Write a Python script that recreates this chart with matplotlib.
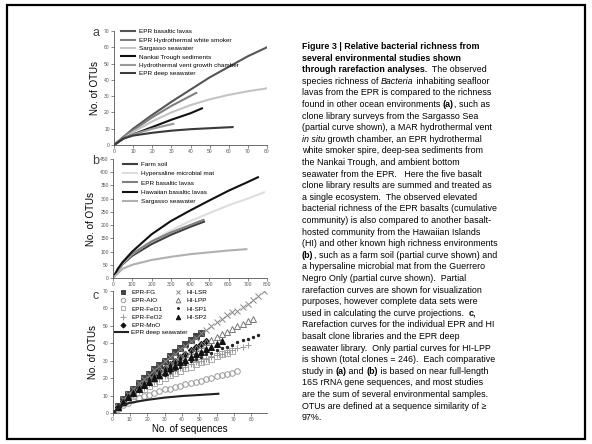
import numpy as np
import matplotlib.pyplot as plt

plt.rcParams['font.family'] = ['Liberation Sans', 'DejaVu Sans']

# ---- panel a: rarefaction, ocean environments
a_names = ["EPR basaltic lavas", "EPR Hydrothermal white smoker", "Sargasso seawater",
           "Nankai Trough sediments", "Hydrothermal vent growth chamber", "EPR deep seawater"]
a_x = [[0, 10, 20, 30, 40, 50, 60, 70, 80],
       [0, 5, 10, 20, 30, 43],
       [0, 10, 20, 30, 40, 50, 60, 70, 80],
       [0, 5, 10, 20, 30, 40, 46],
       [0, 5, 10, 20, 31],
       [0, 5, 10, 20, 30, 40, 50, 62]]
a_y = [[0, 10, 18.5, 26.5, 34, 41.5, 48, 54.5, 60],
       [0, 5, 9, 17, 24, 32],
       [0, 8, 14.5, 20, 24.5, 28, 30.8, 33, 34.8],
       [0, 4, 6.5, 11, 15.5, 19.5, 22.5],
       [0, 4, 6.5, 10, 13],
       [0, 4, 5.8, 7.5, 8.8, 9.7, 10.3, 11]]
a_col = ['#555555', '#808080', '#c4c4c4', '#111111', '#999999', '#3a3a3a']

# ---- panel b: high richness environments
b_names = ["Farm soil", "Hypersaline microbial mat", "EPR basaltic lavas",
           "Hawaiian basaltic lavas", "Sargasso seawater"]
b_x = [[0, 50, 100, 200, 300, 400, 473],
       [0, 50, 100, 200, 300, 400, 500, 600, 700, 784],
       [0, 50, 100, 200, 300, 400, 470],
       [0, 25, 50, 100, 200, 300, 400, 500, 600, 700, 753],
       [0, 50, 100, 200, 300, 400, 500, 600, 693]]
b_y = [[0, 52, 84, 128, 163, 193, 213],
       [0, 55, 90, 140, 180, 215, 245, 275, 300, 324],
       [0, 58, 92, 138, 172, 200, 220],
       [0, 35, 60, 100, 165, 215, 255, 293, 330, 363, 381],
       [0, 35, 50, 68, 80, 90, 97, 104, 109]]
b_col = ['#404040', '#dedede', '#808080', '#111111', '#b0b0b0']

# ---- panel c: individual clone libraries
c_names = ["EPR-FG", "EPR-AIO", "EPR-FeO1", "EPR-FeO2", "EPR-MnO",
           "HI-LSR", "HI-LPP", "HI-SP1", "HI-SP2"]
c_y = [[0, 4, 8, 11, 14, 17, 20, 22.5, 25, 27.5, 30, 32.5, 35, 37, 39.5, 41.5, 44, 46],
       [0, 2.5, 4.5, 6, 7.5, 8.5, 9.5, 10.5, 11.5, 12.5, 13.5, 14, 15, 15.5, 16.5, 17, 18,
        18.5, 19.5, 20, 21, 21.5, 22.5, 23, 24],
       [0, 3, 5.5, 8, 10, 12, 14, 15.5, 17, 18.5, 20, 21.5, 23, 24, 25.5, 26.5, 28, 29,
        30, 31, 32.5, 33.5, 34.5, 35.5],
       [0, 3, 6, 8.5, 10.5, 12.5, 14.5, 16.5, 18, 19.5, 21, 22.5, 24, 25.5, 26.5, 28, 29,
        30, 31, 32, 33, 34, 35, 36, 37, 38, 39],
       [0, 3.5, 7, 10, 12.5, 15, 17.5, 20, 22, 24, 26, 28, 30, 32, 34, 36, 37.5, 39.5, 41],
       [0, 4, 8, 11, 14, 17, 19.5, 22, 24.5, 27, 29.5, 32, 34, 36.5, 38.5, 41, 43, 45.5,
        47.5, 50, 52, 54, 56, 58, 58.5, 60.5, 62.5, 64.5, 67, 69.5],
       [0, 3.5, 7, 10, 12.5, 15, 17.5, 20, 22, 24, 26, 28, 30, 32, 33.5, 35.5, 37, 39,
        40.5, 42, 43.5, 45, 46.5, 48, 49.5, 51, 52.5, 54],
       [0, 3, 6, 8.5, 11, 13, 15, 17, 19, 20.5, 22, 23.5, 25, 26.5, 28, 29.5, 31, 32,
        33.5, 34.5, 36, 37, 38, 39, 40.5, 41.5, 42.5, 43.5, 44.5],
       [0, 3.5, 6.5, 9, 11.5, 14, 16, 18, 20, 22, 23.5, 25.5, 27, 29, 30.5, 32, 33.5, 35,
        36.5, 38, 39.5, 41]]
c_step = 3
c_mark = ['s', 'o', 's', '+', 'D', 'x', '^', '.', '^']
c_face = ['#444444', 'none', 'none', '#999999', '#111111', '#888888', 'none', '#222222', '#111111']
c_edge = ['#444444', '#999999', '#aaaaaa', '#999999', '#111111', '#888888', '#777777', '#222222', '#111111']
c_ms = [3.8, 4.0, 4.0, 4.6, 3.2, 4.2, 4.2, 3.4, 4.0]
deep_x = [0, 5, 10, 20, 30, 40, 50, 61]
deep_y = [0, 4, 5.8, 7.5, 8.8, 9.7, 10.3, 11]

W, H = 592, 444
fig = plt.figure(figsize=(W / 100, H / 100), dpi=100)


def axes_px(l, t, r, b):
    return fig.add_axes([l / W, 1 - b / H, (r - l) / W, (b - t) / H])


def style(ax):
    for s in ['top', 'right']:
        ax.spines[s].set_visible(False)
    for s in ['left', 'bottom']:
        ax.spines[s].set_linewidth(0.6)
        ax.spines[s].set_color('#555555')
    ax.tick_params(labelsize=3.6, length=2, width=0.5, pad=1, colors='#555555')
    ax.set_ylabel("No. of OTUs", fontsize=7, labelpad=3)


# frame
fig.patches.append(plt.Rectangle((7 / W, 1 - 439 / H), 578 / W, 434 / H, transform=fig.transFigure,
                                 fill=False, lw=1.6, ec='black'))

ax = axes_px(114, 31, 267, 145)
for x, y, c, n in zip(a_x, a_y, a_col, a_names):
    ax.plot(x, y, color=c, lw=1.5, label=n)
ax.set_xlim(0, 80)
ax.set_ylim(0, 70)
ax.set_xticks(range(0, 81, 10))
ax.set_yticks(range(0, 71, 10))
style(ax)
ax.legend(loc='upper left', bbox_to_anchor=(0.03, 1.04), frameon=False, fontsize=4.6,
          handlelength=2.2, handletextpad=0.6, labelspacing=0.45, borderaxespad=0)

ax = axes_px(113, 159, 267, 278)
for x, y, c, n in zip(b_x, b_y, b_col, b_names):
    ax.plot(x, y, color=c, lw=1.5, label=n)
ax.set_xlim(0, 800)
ax.set_ylim(0, 450)
ax.set_xticks(range(0, 801, 100))
ax.set_yticks(range(0, 451, 50))
style(ax)
ax.legend(loc='upper left', bbox_to_anchor=(0.05, 1.0), frameon=False, fontsize=4.6,
          handlelength=2.2, handletextpad=0.6, labelspacing=0.6, borderaxespad=0)

ax = axes_px(112.5, 290.5, 267, 413)
hs = []
for y, m, fc, ec, ms, n in zip(c_y, c_mark, c_face, c_edge, c_ms, c_names):
    x = [i * c_step for i in range(len(y))]
    h, = ax.plot(x, y, ls='none', marker=m, mfc=fc, mec=ec, ms=ms, mew=0.7, label=n)
    hs.append(h)
dl, = ax.plot(deep_x, deep_y, color='#222222', lw=1.5, label="EPR deep seawater")
ax.set_xlim(0, 89)
ax.set_ylim(0, 70)
ax.set_xticks(range(0, 81, 10))
ax.set_yticks(range(0, 71, 10))
style(ax)
ax.set_xlabel("No. of sequences", fontsize=7, labelpad=1)
leg = ax.legend(handles=hs, ncol=2, loc='upper left', bbox_to_anchor=(0.03, 1.03), frameon=False,
                fontsize=4.6, handlelength=1.0, handletextpad=0.8, labelspacing=0.45,
                columnspacing=2.0, borderaxespad=0, markerscale=0.8)
ax.add_artist(leg)
ax.legend(handles=[dl], loc='upper left', bbox_to_anchor=(0.0, 0.7), frameon=False,
          fontsize=4.6, handlelength=2.0, handletextpad=0.5, borderaxespad=0)

for lab, yy in [("a", 33), ("b", 161), ("c", 296)]:
    fig.text(96 / W, 1 - yy / H, lab, fontsize=9, color='#444444', ha='center', va='center')

# ---- caption
B, I, N = 'bold', 'italic', 'normal'
caption = [
    [("Figure 3 | Relative bacterial richness from", B)],
    [("several environmental studies shown", B)],
    [("through rarefaction analyses.", B), ("  The observed", N)],
    [("species richness of ", N), ("Bacteria", I), (" inhabiting seafloor", N)],
    [("lavas from the EPR is compared to the richness", N)],
    [("found in other ocean environments ", N), ("(a)", B), (", such as", N)],
    [("clone library surveys from the Sargasso Sea", N)],
    [("(partial curve shown), a MAR hydrothermal vent", N)],
    [("in situ", I), (" growth chamber, an EPR hydrothermal", N)],
    [("white smoker spire, deep-sea sediments from", N)],
    [("the Nankai Trough, and ambient bottom", N)],
    [("seawater from the EPR.   Here the five basalt", N)],
    [("clone library results are summed and treated as", N)],
    [("a single ecosystem.  The observed elevated", N)],
    [("bacterial richness of the EPR basalts (cumulative", N)],
    [("community) is also compared to another basalt-", N)],
    [("hosted community from the Hawaiian Islands", N)],
    [("(HI) and other known high richness environments", N)],
    [("(b)", B), (", such as a farm soil (partial curve shown) and", N)],
    [("a hypersaline microbial mat from the Guerrero", N)],
    [("Negro Only (partial curve shown).  Partial", N)],
    [("rarefaction curves are shown for visualization", N)],
    [("purposes, however complete data sets were", N)],
    [("used in calculating the curve projections.  ", N), ("c,", B)],
    [("Rarefaction curves for the individual EPR and HI", N)],
    [("basalt clone libraries and the EPR deep", N)],
    [("seawater library.  Only partial curves for HI-LPP", N)],
    [("is shown (total clones = 246).  Each comparative", N)],
    [("study in ", N), ("(a)", B), (" and ", N), ("(b)", B), (" is based on near full-length", N)],
    [("16S rRNA gene sequences, and most studies", N)],
    [("are the sum of several environmental samples.", N)],
    [("OTUs are defined at a sequence similarity of \u2265", N)],
    [("97%.", N)],
]

fig.canvas.draw()
rend = fig.canvas.get_renderer()
fs = 6.4


def seg_width(s, st):
    kw = dict(fontsize=fs, weight='bold' if st == B else 'normal',
              style='italic' if st == I else 'normal')
    t1 = fig.text(0, 0, "|" + s + "|", **kw)
    t2 = fig.text(0, 0, "||", **kw)
    w = t1.get_window_extent(rend).width - t2.get_window_extent(rend).width
    t1.remove()
    t2.remove()
    return w


for i, line in enumerate(caption):
    xp = 302.0
    yp = 49 + i * 11.6
    for s, st in line:
        fig.text(xp / W, 1 - yp / H, s, fontsize=fs, va='baseline', ha='left',
                 weight='bold' if st == B else 'normal',
                 style='italic' if st == I else 'normal')
        xp += seg_width(s, st)

fig.savefig("out.png", dpi=100)
